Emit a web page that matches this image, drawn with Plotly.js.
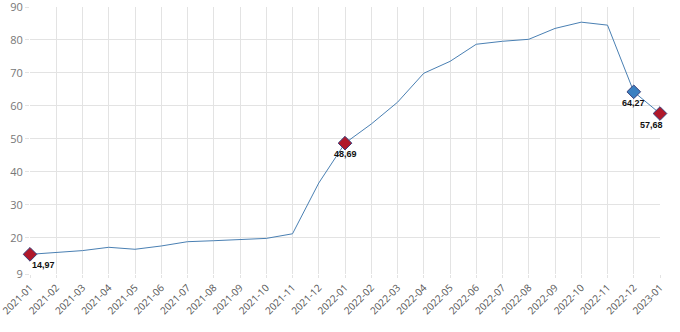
<!DOCTYPE html>
<html><head><meta charset="utf-8">
<script src="https://cdn.plot.ly/plotly-3.0.1.min.js"></script>
<style>html,body{margin:0;padding:0;background:#fff}#c{width:680px;height:332px}</style>
</head><body><div id="c"></div>
<script>
const months = ["2021-01","2021-02","2021-03","2021-04","2021-05","2021-06","2021-07","2021-08","2021-09","2021-10","2021-11","2021-12","2022-01","2022-02","2022-03","2022-04","2022-05","2022-06","2022-07","2022-08","2022-09","2022-10","2022-11","2022-12","2023-01"];
const values = [14.97,15.6,16.1,17.1,16.5,17.5,18.8,19.1,19.4,19.8,21.2,36.6,48.69,54.5,61.1,69.9,73.5,78.7,79.6,80.2,83.5,85.4,84.5,64.27,57.68];
const highlightIdx = [0,12,23,24];
const highlightColors = ["#b0182a","#b0182a","#3a80c1","#b0182a"];
const labelXShift = [13,0,0,-9];
const yTicks = [9,20,30,40,50,60,70,80,90];

const hx = highlightIdx.map(i => months[i]);
const hy = highlightIdx.map(i => values[i]);
const fmt = v => v.toFixed(2).replace('.', ',');

const traces = [
  {x: months, y: values, type: 'scatter', mode: 'lines', line: {color: '#4a80b3', width: 1}, hoverinfo: 'x+y', cliponaxis: false},
  {x: hx, y: hy, type: 'scatter', mode: 'markers', cliponaxis: false,
   marker: {symbol: 'diamond', size: 10.5, color: highlightColors, line: {color: '#3a3f7a', width: 1}}}
];
const annotations = hx.map((x, k) => ({
  x: x, y: hy[k], xref: 'x', yref: 'y', text: fmt(hy[k]), showarrow: false,
  yshift: -11, xshift: labelXShift[k], font: {size: 9, color: '#111', family: 'Arial, Liberation Sans, sans-serif', weight: 'bold'}
}));
const layout = {
  width: 680, height: 332,
  margin: {l: 30, r: 20, t: 7, b: 58},
  paper_bgcolor: '#fff', plot_bgcolor: '#fff',
  showlegend: false,
  font: {family: 'Open Sans, Arial, sans-serif', color: '#666'},
  xaxis: {type: 'category', range: [0, 24], tickangle: -45, showgrid: true, gridcolor: '#e3e3e3',
          zeroline: false, showline: false, ticks: 'outside', ticklen: 3, tickcolor: '#e3e3e3',
          ticklabeloverflow: 'allow', tickfont: {size: 10, color: '#555'}},
  yaxis: {range: [9, 90], tickvals: yTicks, ticktext: yTicks.map(String), showgrid: true, gridcolor: '#e3e3e3',
          zeroline: false, showline: false, ticks: 'outside', ticklen: 4, tickcolor: '#e3e3e3',
          ticklabeloverflow: 'allow', tickfont: {size: 11, color: '#777'}},
  annotations: annotations
};
Plotly.newPlot('c', traces, layout, {displayModeBar: false, staticPlot: true});
</script></body></html>
